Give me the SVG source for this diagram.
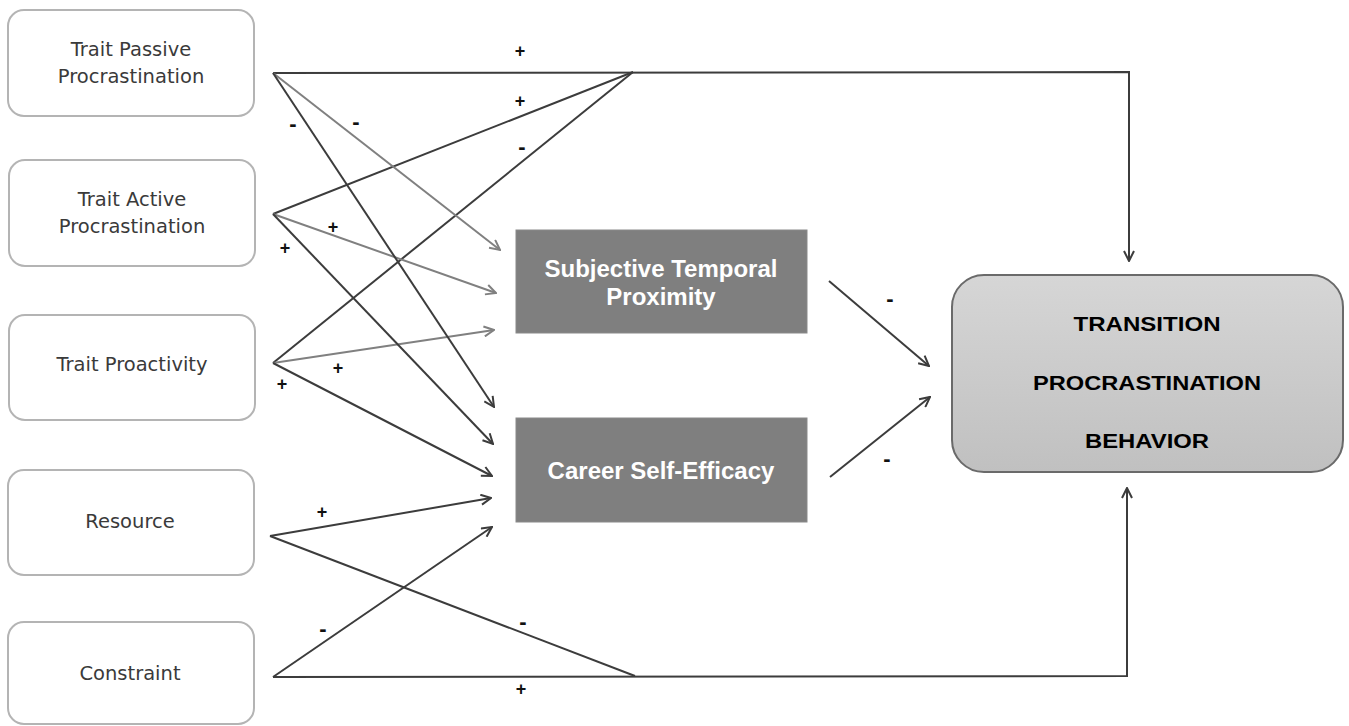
<svg xmlns="http://www.w3.org/2000/svg" width="1349" height="726" viewBox="0 0 1349 726">
<defs>
<style>
.src rect{fill:#fff;stroke:#b4b4b4;stroke-width:2}
.src text{font-family:"DejaVu Sans",sans-serif;font-size:19.5px;fill:#3a3a3a;text-anchor:middle}
.med rect{fill:#7f7f7f;stroke:#8a8a8a;stroke-width:1}
.med text{font-family:"Liberation Sans",Arial,sans-serif;font-weight:bold;font-size:24px;fill:#fff;text-anchor:middle}
.out text{font-family:"Liberation Sans",Arial,sans-serif;font-weight:bold;font-size:21px;fill:#000;text-anchor:middle}
.dk{fill:none;stroke:#3c3c3c;stroke-width:2}
.gy{fill:none;stroke:#808080;stroke-width:2}
.lbl{font-family:"Liberation Sans",Arial,sans-serif;font-weight:bold;font-size:18px;fill:#111;text-anchor:middle}
.neg{font-size:22px}
</style>
<marker id="ad" viewBox="0 0 12 12" refX="11" refY="6" markerWidth="12" markerHeight="12" markerUnits="userSpaceOnUse" orient="auto">
<path d="M1,1 L11,6 L1,11" fill="none" stroke="#3c3c3c" stroke-width="2"/>
</marker>
<marker id="ag" viewBox="0 0 12 12" refX="11" refY="6" markerWidth="12" markerHeight="12" markerUnits="userSpaceOnUse" orient="auto">
<path d="M1,1 L11,6 L1,11" fill="none" stroke="#808080" stroke-width="2"/>
</marker>
<linearGradient id="og" x1="0" y1="0" x2="0" y2="1">
<stop offset="0" stop-color="#d6d6d6"/>
<stop offset="1" stop-color="#c0c0c0"/>
</linearGradient>
</defs>
<rect width="1349" height="726" fill="#fff"/>

<g id="connectors">
<path class="dk" d="M273,73 L1129,72 L1129,261" marker-end="url(#ad)"/>
<path class="dk" d="M273,214 L633,72"/>
<path class="dk" d="M273,363 L633,72"/>
<path class="gy" d="M273,73 L500,250" marker-end="url(#ag)"/>
<path class="gy" d="M273,214 L496,293" marker-end="url(#ag)"/>
<path class="gy" d="M273,363 L494,330" marker-end="url(#ag)"/>
<path class="dk" d="M273,73 L494,407" marker-end="url(#ad)"/>
<path class="dk" d="M273,214 L493,444" marker-end="url(#ad)"/>
<path class="dk" d="M273,363 L492,476" marker-end="url(#ad)"/>
<path class="dk" d="M270,536 L491,498" marker-end="url(#ad)"/>
<path class="dk" d="M273,677 L492,527" marker-end="url(#ad)"/>
<path class="dk" d="M270,536 L635,676"/>
<path class="dk" d="M273,677 L1127,676 L1127,488" marker-end="url(#ad)"/>
<path class="dk" d="M829,281 L929,366" marker-end="url(#ad)"/>
<path class="dk" d="M830,477 L930,397" marker-end="url(#ad)"/>
<g id="labels">
<text class="lbl" x="520" y="57">+</text>
<text class="lbl" x="520" y="107">+</text>
<text class="lbl neg" x="522" y="154">-</text>
<text class="lbl neg" x="293" y="131">-</text>
<text class="lbl neg" x="356" y="129">-</text>
<text class="lbl" x="333" y="233">+</text>
<text class="lbl" x="285" y="254">+</text>
<text class="lbl" x="338" y="374">+</text>
<text class="lbl" x="282" y="390">+</text>
<text class="lbl neg" x="890" y="306">-</text>
<text class="lbl neg" x="887" y="466">-</text>
<text class="lbl" x="322" y="518">+</text>
<text class="lbl neg" x="523" y="629">-</text>
<text class="lbl neg" x="323" y="636">-</text>
<text class="lbl" x="521" y="695">+</text>
</g>
</g>

<g id="trait-passive" class="src">
<rect x="8" y="10" width="246" height="106" rx="16"/>
<text x="131" y="56">Trait Passive</text>
<text x="131" y="83">Procrastination</text>
</g>
<g id="trait-active" class="src">
<rect x="9" y="160" width="246" height="106" rx="16"/>
<text x="132" y="206">Trait Active</text>
<text x="132" y="233">Procrastination</text>
</g>
<g id="trait-proactivity" class="src">
<rect x="9" y="315" width="246" height="105" rx="16"/>
<text x="132" y="371">Trait Proactivity</text>
</g>
<g id="resource" class="src">
<rect x="8" y="470" width="246" height="105" rx="16"/>
<text x="130" y="528">Resource</text>
</g>
<g id="constraint" class="src">
<rect x="8" y="622" width="246" height="102" rx="16"/>
<text x="130" y="680">Constraint</text>
</g>

<g id="stp" class="med">
<rect x="516" y="230" width="291" height="103"/>
<text x="661" y="277">Subjective Temporal</text>
<text x="661" y="305">Proximity</text>
</g>
<g id="cse" class="med">
<rect x="516" y="418" width="291" height="104"/>
<text x="661" y="479">Career Self-Efficacy</text>
</g>

<g id="outcome" class="out">
<rect x="952" y="275" width="391" height="197" rx="32" fill="url(#og)" stroke="#6a6a6a" stroke-width="2"/>
<text x="1147" y="331" textLength="147" lengthAdjust="spacingAndGlyphs">TRANSITION</text>
<text x="1147" y="390" textLength="228" lengthAdjust="spacingAndGlyphs">PROCRASTINATION</text>
<text x="1147" y="448" textLength="124" lengthAdjust="spacingAndGlyphs">BEHAVIOR</text>
</g>
</svg>
